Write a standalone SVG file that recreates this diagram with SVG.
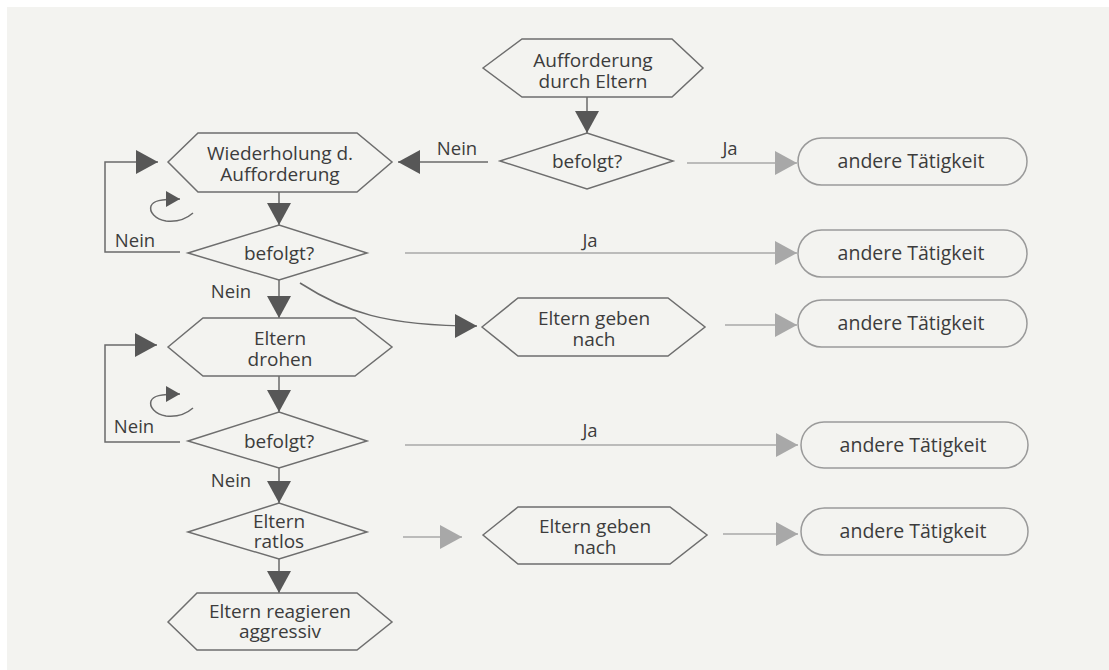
<svg xmlns="http://www.w3.org/2000/svg" width="1109" height="670" viewBox="0 0 1109 670">
<defs>
<style>
.shape{fill:none;stroke:#6e6e6e;stroke-width:1.5}
.box{fill:none;stroke:#9a9a9a;stroke-width:1.5}
.t{font-family:"Open Sans","Noto Sans","DejaVu Sans",sans-serif;font-size:19px;fill:#3c3c3c;text-anchor:middle}
.tb{font-family:"Open Sans","Noto Sans","DejaVu Sans",sans-serif;font-size:19.5px;fill:#3c3c3c;text-anchor:middle}
.lbl{font-family:"Open Sans","Noto Sans","DejaVu Sans",sans-serif;font-size:18.5px;fill:#3c3c3c;text-anchor:middle}
.dark{fill:none;stroke:#6a6a6a;stroke-width:1.5}
.light{fill:none;stroke:#a8a8a8;stroke-width:1.5}
</style>
<marker id="ad" markerUnits="userSpaceOnUse" markerWidth="24" markerHeight="26" refX="22" refY="12" orient="auto"><path d="M0,0 L22,12 L0,24 z" fill="#575757"/></marker>
<marker id="al" markerUnits="userSpaceOnUse" markerWidth="24" markerHeight="26" refX="22" refY="12" orient="auto"><path d="M0,0 L22,12 L0,24 z" fill="#a8a8a8"/></marker>
<marker id="as" markerUnits="userSpaceOnUse" markerWidth="16" markerHeight="18" refX="14" refY="8" orient="auto"><path d="M0,0 L14,8 L0,16 z" fill="#575757"/></marker>
</defs>
<rect x="0" y="0" width="1109" height="670" fill="#ffffff"/>
<rect x="7" y="7" width="1102" height="663" fill="#f3f3f0"/>

<g id="connectors">
<path class="dark" d="M587,97 L587,133" marker-end="url(#ad)"/>
<path class="dark" d="M488,162 L398,162" marker-end="url(#ad)"/>
<text class="lbl" x="457" y="155">Nein</text>
<path class="light" d="M687,163 L797,163" marker-end="url(#al)"/>
<text class="lbl" x="730" y="155">Ja</text>
<path class="dark" d="M180,252 L105,252 L105,162 L158,162" marker-end="url(#ad)"/>
<text class="lbl" x="135" y="247">Nein</text>
<path class="dark" d="M279,192 L279,225" marker-end="url(#ad)"/>
<path class="dark" d="M193,213 C185,220 175,222 166,221 C155,219 149,212 151,206 C153,201 160,199 180,199" marker-end="url(#as)"/>
<path class="dark" d="M279,280 L279,318" marker-end="url(#ad)"/>
<text class="lbl" x="231" y="298">Nein</text>
<path class="dark" d="M300,283 C345,312 385,326 477,326" marker-end="url(#ad)"/>
<path class="light" d="M405,253 L797,253" marker-end="url(#al)"/>
<text class="lbl" x="590" y="247">Ja</text>
<path class="dark" d="M180,442 L105,442 L105,345 L157,345" marker-end="url(#ad)"/>
<text class="lbl" x="134" y="433">Nein</text>
<path class="dark" d="M279,376 L279,412" marker-end="url(#ad)"/>
<path class="dark" d="M193,408 C185,415 175,417 166,416 C155,414 149,407 151,401 C153,396 160,394 180,394" marker-end="url(#as)"/>
<path class="dark" d="M279,468 L279,503" marker-end="url(#ad)"/>
<text class="lbl" x="231" y="487">Nein</text>
<path class="light" d="M405,445 L798,445" marker-end="url(#al)"/>
<text class="lbl" x="590" y="437">Ja</text>
<path class="dark" d="M279,559 L279,593" marker-end="url(#ad)"/>
<path class="light" d="M403,537 L462,537" marker-end="url(#al)"/>
<path class="light" d="M725,325 L797,325" marker-end="url(#al)"/>
<path class="light" d="M723,534 L798,534" marker-end="url(#al)"/>
</g>

<g id="n-aufforderung">
<polygon class="shape" points="483,68 522,39 672,39 703,68 672,97 522,97"/>
<text class="t" x="593" y="67">Aufforderung</text>
<text class="t" x="593" y="88">durch Eltern</text>
</g>
<g id="n-befolgt1">
<polygon class="shape" points="500,161 587,133 673,161 587,189"/>
<text class="t" x="587" y="168">befolgt?</text>
</g>
<g id="n-wiederholung">
<polygon class="shape" points="168,162 198,133 357,133 392,162 357,192 198,192"/>
<text class="t" x="280" y="160">Wiederholung d.</text>
<text class="t" x="280" y="181">Aufforderung</text>
</g>
<g id="n-befolgt2">
<polygon class="shape" points="188,253 279,225 367,253 279,280"/>
<text class="t" x="279" y="260">befolgt?</text>
</g>
<g id="n-drohen">
<polygon class="shape" points="168,347 203,318 355,318 392,347 355,376 203,376"/>
<text class="t" x="280" y="345">Eltern</text>
<text class="t" x="280" y="366">drohen</text>
</g>
<g id="n-befolgt3">
<polygon class="shape" points="188,441 279,412 367,441 279,468"/>
<text class="t" x="279" y="448">befolgt?</text>
</g>
<g id="n-ratlos">
<polygon class="shape" points="188,532 279,503 367,532 279,559"/>
<text class="t" x="279" y="528">Eltern</text>
<text class="t" x="279" y="548">ratlos</text>
</g>
<g id="n-aggressiv">
<polygon class="shape" points="168,622 197,593 357,593 392,622 357,650 197,650"/>
<text class="t" x="280" y="618">Eltern reagieren</text>
<text class="t" x="280" y="638">aggressiv</text>
</g>
<g id="n-nach1">
<polygon class="shape" points="482,327 518,298 668,298 705,327 668,356 518,356"/>
<text class="t" x="594" y="325">Eltern geben</text>
<text class="t" x="594" y="346">nach</text>
</g>
<g id="n-nach2">
<polygon class="shape" points="483,535 518,507 670,507 707,535 670,564 518,564"/>
<text class="t" x="595" y="533">Eltern geben</text>
<text class="t" x="595" y="554">nach</text>
</g>
<g id="n-box1">
<rect class="box" x="798" y="138" width="229" height="47" rx="23.5"/>
<text class="tb" x="911" y="168">andere Tätigkeit</text>
</g>
<g id="n-box2">
<rect class="box" x="798" y="230" width="229" height="47" rx="23.5"/>
<text class="tb" x="911" y="260">andere Tätigkeit</text>
</g>
<g id="n-box3">
<rect class="box" x="798" y="300" width="229" height="47" rx="23.5"/>
<text class="tb" x="911" y="330">andere Tätigkeit</text>
</g>
<g id="n-box4">
<rect class="box" x="801" y="422" width="227" height="46" rx="23"/>
<text class="tb" x="913" y="452">andere Tätigkeit</text>
</g>
<g id="n-box5">
<rect class="box" x="801" y="508" width="227" height="47" rx="23.5"/>
<text class="tb" x="913" y="538">andere Tätigkeit</text>
</g>
</svg>
